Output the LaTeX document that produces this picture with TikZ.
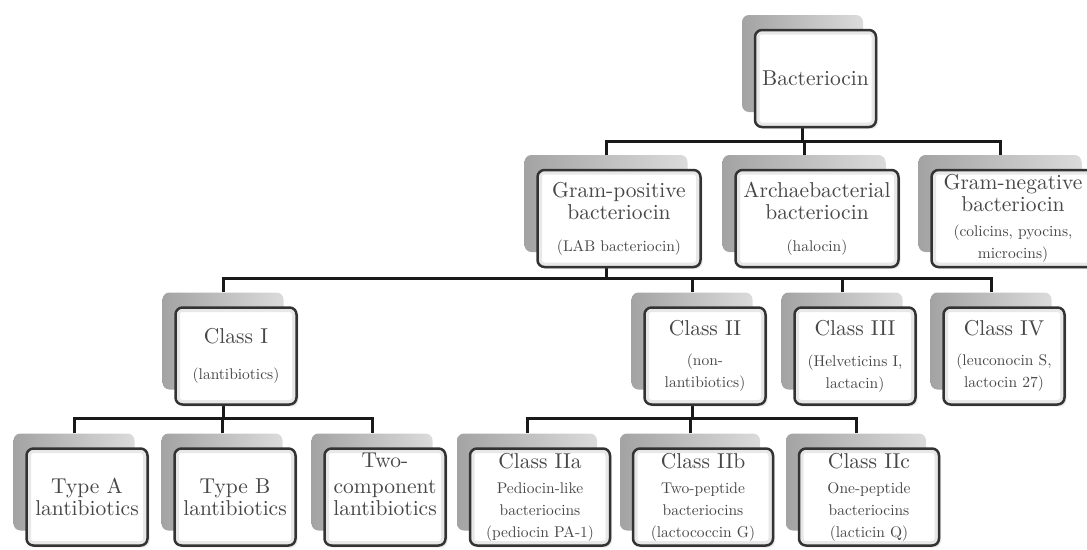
\documentclass[tikz,border=0pt]{standalone}
\usepackage{fontspec}
\setmainfont{lmroman10-regular.otf}
\usetikzlibrary{positioning, calc, shadows}

\newcommand{\ttl}{\fontsize{21.5}{22}\selectfont}
\newcommand{\subt}{\fontsize{15.5}{19}\selectfont}

\begin{document}
\begin{tikzpicture}[
    x=1pt, y=-1pt,
    back/.style={rounded corners=7pt, minimum height=97pt, inner sep=0pt,
                 left color=black!36, right color=black!14},
    front/.style={draw=black!80, line width=2.5pt, rounded corners=7pt,
                  fill=white, minimum height=97pt, inner sep=0pt,
                  align=center, text=black!72, font=\ttl,
                  drop shadow={opacity=0.18, shadow xshift=2pt,
                               shadow yshift=-2pt},
                  path picture={\draw[black!9, line width=9pt, rounded corners=7pt]
                    (path picture bounding box.south west) rectangle
                    (path picture bounding box.north east);}},
    txt/.style={align=center, text=black!72, font=\ttl, inner sep=0pt},
    wA/.style={minimum width=121pt},
    wB/.style={minimum width=163pt},
    wC/.style={minimum width=140pt},
    link/.style={line width=3pt, black!90}
  ]
  \useasboundingbox (0,0) rectangle (1087,549);

  % grey boxes behind
  \node[back, wA] (bac-s) at (802.5, 63.5) {};
  \foreach \n/\x in {gpos/606, arch/804, gneg/1000}
    \node[back, wB] (\n-s) at (\x, 203.5) {};
  \foreach \n/\x in {c1/223, c2/692, c3/842, c4/991}
    \node[back, wA] (\n-s) at (\x, 341) {};
  \foreach \n/\x in {ta/74, tb/222, tc/372}
    \node[back, wA] (\n-s) at (\x, 482) {};
  \foreach \n/\x in {c2a/527, c2b/690, c2c/856}
    \node[back, wC] (\n-s) at (\x, 482) {};

  % connectors
  \coordinate (bar1) at (0, 141);
  \coordinate (bar2) at (0, 278);
  \coordinate (bar3) at (0, 418);

  \draw[link] (bac-s.south) -- (bac-s.south |- bar1);
  \draw[link] (gpos-s.north) -- (gpos-s.north |- bar1)
    -- (gneg-s.north |- bar1) -- (gneg-s.north);
  \draw[link] (arch-s.north) -- (arch-s.north |- bar1);

  \draw[link] (gpos-s.south) -- (gpos-s.south |- bar2);
  \draw[link] (c1-s.north) -- (c1-s.north |- bar2)
    -- (c4-s.north |- bar2) -- (c4-s.north);
  \draw[link] (c2-s.north) -- (c2-s.north |- bar2);
  \draw[link] (c3-s.north) -- (c3-s.north |- bar2);

  \draw[link] (c1-s.south) -- (c1-s.south |- bar3);
  \draw[link] (ta-s.north) -- (ta-s.north |- bar3)
    -- (tc-s.north |- bar3) -- (tc-s.north);
  \draw[link] (tb-s.north) -- (tb-s.north |- bar3);

  \draw[link] (c2-s.south) -- (c2-s.south |- bar3);
  \draw[link] (c2a-s.north) -- (c2a-s.north |- bar3)
    -- (c2c-s.north |- bar3) -- (c2c-s.north);
  \draw[link] (c2b-s.north) -- (c2b-s.north |- bar3);

  % white boxes with text
  \node[front, wA] (bac) at ($(bac-s)+(13,15)$) {Bacteriocin};

  \node[front, wB] (gpos) at ($(gpos-s)+(13,15)$)
    {Gram-positive\\bacteriocin\\[10pt]\subt (LAB bacteriocin)};
  \node[front, wB] (arch) at ($(arch-s)+(13,15)$)
    {Archaebacterial\\bacteriocin\\[10pt]\subt (halocin)};
  \node[front, wB] (gneg) at ($(gneg-s)+(13,15)$)
    {Gram-negative\\bacteriocin\\[3pt]\subt (colicins, pyocins,\\\subt microcins)};

  \node[front, wA] (c1) at ($(c1-s)+(13,15)$)
    {Class I\\[14pt]\subt (lantibiotics)};
  \node[front, wA] (c2) at ($(c2-s)+(13,15)$)
    {Class II\\[8pt]\subt (non-\\\subt lantibiotics)};
  \node[front, wA] (c3) at ($(c3-s)+(13,15)$)
    {Class III\\[9pt]\subt (Helveticins I,\\\subt lactacin)};
  \node[front, wA] (c4) at ($(c4-s)+(13,15)$)
    {Class IV\\[8pt]\subt (leuconocin S,\\\subt lactocin 27)};

  \node[front, wA] (ta) at ($(ta-s)+(13,15)$) {Type A\\lantibiotics};
  \node[front, wA] (tb) at ($(tb-s)+(13,15)$) {Type B\\lantibiotics};
  \node[front, wA] (tc) at ($(tc-s)+(13,15)$) {};
  \node[txt] (tc-t) at ($(tc)+(0,-13)$)
    {Two-\\[4pt]component\\lantibiotics};

  \node[front, wC] (c2a) at ($(c2a-s)+(13,15)$)
    {Class IIa\\[3pt]\subt Pediocin-like\\\subt bacteriocins\\\subt (pediocin PA-1)};
  \node[front, wC] (c2b) at ($(c2b-s)+(13,15)$)
    {Class IIb\\[3pt]\subt Two-peptide\\\subt bacteriocins\\\subt (lactococcin G)};
  \node[front, wC] (c2c) at ($(c2c-s)+(13,15)$)
    {Class IIc\\[3pt]\subt One-peptide\\\subt bacteriocins\\\subt (lacticin Q)};
\end{tikzpicture}
\end{document}
